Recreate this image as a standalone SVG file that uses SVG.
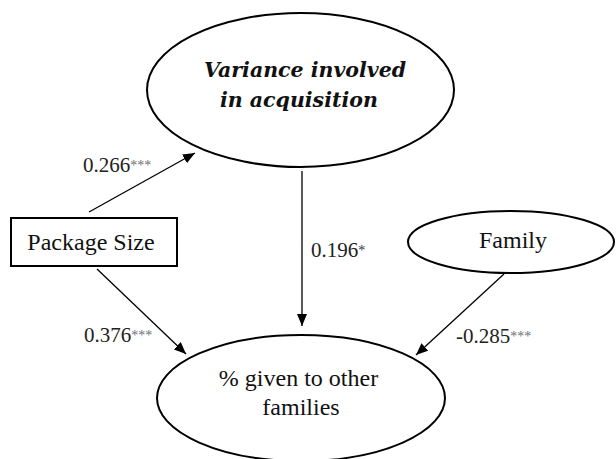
<svg xmlns="http://www.w3.org/2000/svg" width="616" height="459" viewBox="0 0 616 459">
  <style>
    .node { fill: #ffffff; stroke: #000000; stroke-width: 2; }
    .lbl { font-family: "Liberation Serif", "Times New Roman", serif; font-size: 24px; fill: #111111; }
    .bi { font-family: "DejaVu Serif", "Liberation Serif", serif; font-size: 20.5px; font-weight: bold; font-style: italic; fill: #111111; }
    .num { font-family: "Liberation Serif", "Times New Roman", serif; font-size: 21px; fill: #222222; }
    .sig { font-size: 14px; fill: #6e6e6e; }
    .sig1 { font-size: 14px; fill: #333333; }
    .edge { stroke: #000000; stroke-width: 1.3; fill: none; marker-end: url(#arrow); }
  </style>
  <defs>
    <marker id="arrow" markerUnits="userSpaceOnUse" markerWidth="12" markerHeight="10" viewBox="0 0 12 10" refX="12" refY="5" orient="auto">
      <path d="M0,0 L12,5 L0,10 Z" fill="#000000"/>
    </marker>
  </defs>
  <rect width="616" height="459" fill="#ffffff"/>

  <g id="connectors">
    <line class="edge" x1="89" y1="212" x2="195" y2="153"/>
    <line class="edge" x1="302" y1="171" x2="302" y2="326"/>
    <line class="edge" x1="97" y1="269" x2="186" y2="354"/>
    <line class="edge" x1="504" y1="274" x2="416" y2="355"/>
    <text class="num" x="83" y="172">0.266<tspan class="sig" dy="-2">***</tspan></text>
    <text class="num" x="311" y="257">0.196<tspan class="sig1" dy="-2">*</tspan></text>
    <text class="num" x="84" y="342">0.376<tspan class="sig" dy="-2">***</tspan></text>
    <text class="num" x="456" y="343">-0.285<tspan class="sig" dy="-2">***</tspan></text>
  </g>

  <g id="variance">
    <ellipse class="node" cx="300.5" cy="90" rx="153.5" ry="77"/>
    <text class="bi" x="204" y="77">Variance involved</text>
    <text class="bi" x="220" y="107">in acquisition</text>
  </g>

  <g id="package-size">
    <rect class="node" x="11" y="218" width="166" height="48"/>
    <text class="lbl" x="91" y="250" text-anchor="middle">Package Size</text>
  </g>

  <g id="family">
    <ellipse class="node" cx="511" cy="242" rx="103" ry="31"/>
    <text class="lbl" x="513" y="248" text-anchor="middle">Family</text>
  </g>

  <g id="given">
    <ellipse class="node" cx="301" cy="398" rx="144" ry="63"/>
    <text class="lbl" x="298.5" y="386" text-anchor="middle">% given to other</text>
    <text class="lbl" x="301" y="415" text-anchor="middle">families</text>
  </g>
</svg>
